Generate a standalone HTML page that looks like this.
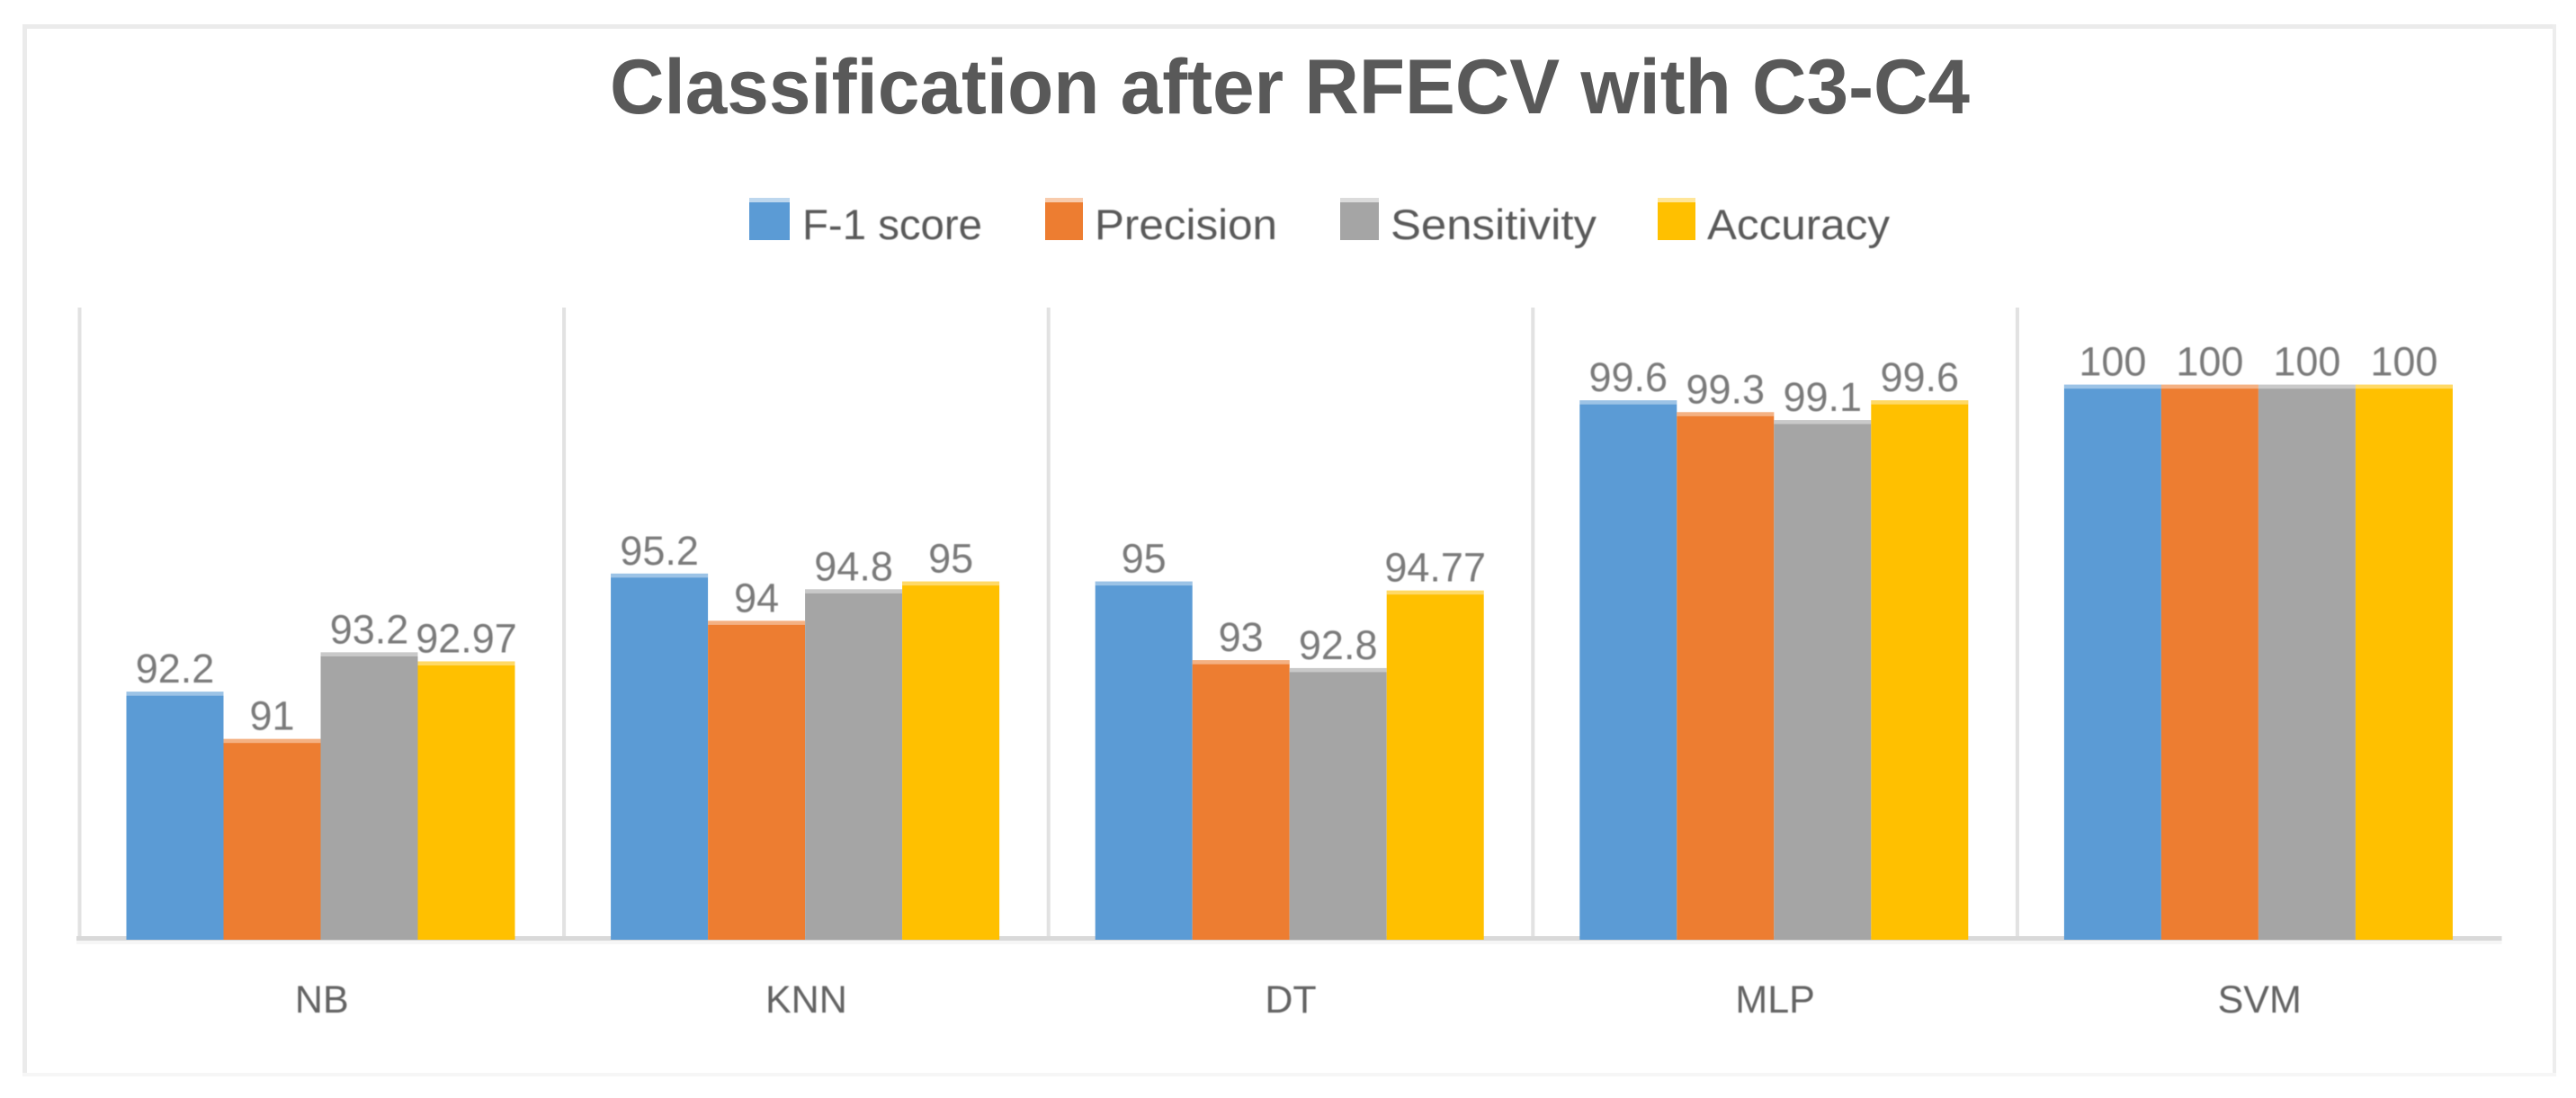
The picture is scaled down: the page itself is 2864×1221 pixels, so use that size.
<!DOCTYPE html>
<html lang="en">
<head>
<meta charset="utf-8">
<title>Classification after RFECV with C3-C4</title>
<style>
  html, body { margin: 0; padding: 0; background: #ffffff; }
  svg { display: block; font-family: "Liberation Sans", "DejaVu Sans", sans-serif; }
  #labels text, #categories text, #legend text { filter: blur(0.5px); }
</style>
</head>
<body>
<svg id="chart" xmlns="http://www.w3.org/2000/svg" width="2864" height="1221" viewBox="0 0 2864 1221">
  <rect x="0" y="0" width="2864" height="1221" fill="#ffffff"/>
  <g>
    <rect x="25" y="27" width="2817" height="5" fill="#ebebeb"/>
    <rect x="25" y="27" width="5" height="1170" fill="#ebebeb"/>
    <rect x="2838" y="27" width="4" height="1170" fill="#ededed"/>
    <rect x="25" y="1193" width="2817" height="4" fill="#f6f6f6"/>
  </g>
  <text x="678" y="126" font-size="86" font-weight="700" fill="#595959" textLength="1512" lengthAdjust="spacingAndGlyphs">Classification after RFECV with C3-C4</text>
  <g id="legend" font-size="47" fill="#595959">
    <g>
      <rect x="833" y="220" width="45" height="47" fill="#5b9bd5"/>
      <rect x="833" y="220" width="45" height="5" fill="#ffffff" fill-opacity="0.6"/>
      <text x="892" y="266" textLength="200" lengthAdjust="spacingAndGlyphs">F-1 score</text>
    </g>
    <g>
      <rect x="1162" y="220" width="42" height="47" fill="#ed7d31"/>
      <rect x="1162" y="220" width="42" height="5" fill="#ffffff" fill-opacity="0.6"/>
      <text x="1217" y="266" textLength="203" lengthAdjust="spacingAndGlyphs">Precision</text>
    </g>
    <g>
      <rect x="1490" y="220" width="43" height="47" fill="#a5a5a5"/>
      <rect x="1490" y="220" width="43" height="5" fill="#ffffff" fill-opacity="0.6"/>
      <text x="1546" y="266" textLength="229" lengthAdjust="spacingAndGlyphs">Sensitivity</text>
    </g>
    <g>
      <rect x="1843" y="220" width="42" height="47" fill="#ffc000"/>
      <rect x="1843" y="220" width="42" height="5" fill="#ffffff" fill-opacity="0.6"/>
      <text x="1898" y="266" textLength="203" lengthAdjust="spacingAndGlyphs">Accuracy</text>
    </g>
  </g>
  <g id="gridlines"></g>
  <g id="axis"></g>
  <g id="bars"></g>
  <g id="labels" font-size="45" fill="#7a7a7a" text-anchor="middle"></g>
  <g id="categories" font-size="43" fill="#636363" text-anchor="middle"></g>
</svg>
<script>
const categories = ["NB", "KNN", "DT", "MLP", "SVM"];
const f1Score = [92.2, 95.2, 95, 99.6, 100];
const precision = [91, 94, 93, 99.3, 100];
const sensitivity = [93.2, 94.8, 92.8, 99.1, 100];
const accuracy = [92.97, 95, 94.77, 99.6, 100];

const seriesValues = [f1Score, precision, sensitivity, accuracy];
const seriesNames = ["f1-score", "precision", "sensitivity", "accuracy"];
const seriesColors = ["#5b9bd5", "#ed7d31", "#a5a5a5", "#ffc000"];

const NS = "http://www.w3.org/2000/svg";
const plotLeft = 88.5;
const plotRight = 2781.5;
const baseY = 1045;
const gridTop = 342;
const axisMin = 85.9;
const pxPerUnit = 43.78;
const bandWidth = (plotRight - plotLeft) / categories.length;
const groupInset = 52;
const barWidth = 108;

function yScale(v) { return baseY - (v - axisMin) * pxPerUnit; }
function bandLeft(i) { return plotLeft + i * bandWidth; }
function barLeft(c, s) { return bandLeft(c) + groupInset + s * barWidth; }

function make(tag, attrs, parent) {
  const el = document.createElementNS(NS, tag);
  Object.keys(attrs).forEach(function (k) { el.setAttribute(k, attrs[k]); });
  parent.appendChild(el);
  return el;
}

const gridGroup = document.getElementById("gridlines");
const axisGroup = document.getElementById("axis");
const barGroup = document.getElementById("bars");
const labelGroup = document.getElementById("labels");
const categoryGroup = document.getElementById("categories");

categories.forEach(function (cat, i) {
  const line = make("rect", { x: bandLeft(i) - 2, y: gridTop, width: 4, height: baseY - gridTop, fill: "#e2e2e2" }, gridGroup);
  
  
});

const axisShadow = make("rect", { x: 85, y: 1046, width: plotRight - 85, height: 4, fill: "#f6f6f6" }, axisGroup);


const axisLine = make("rect", { x: 85, y: 1041, width: plotRight - 85, height: 5, fill: "#d9d9d9" }, axisGroup);



seriesValues.forEach(function (values, s) {
  values.forEach(function (v, c) {
    const x = barLeft(c, s);
    const y = yScale(v);
    const bar = make("rect", { x: x, y: y, width: barWidth, height: baseY - y, fill: seriesColors[s] }, barGroup);
    
    
    const strip = make("rect", { x: x, y: y, width: barWidth, height: 4.5, fill: "#ffffff", "fill-opacity": 0.4 }, barGroup);
    
    
    const label = make("text", { x: x + barWidth / 2, y: y - 10 }, labelGroup);
    label.textContent = String(v);
    
    
  });
});

categories.forEach(function (cat, i) {
  const t = make("text", { x: bandLeft(i) + bandWidth / 2, y: 1126 }, categoryGroup);
  t.textContent = cat;
  
  
});
</script>
</body>
</html>
